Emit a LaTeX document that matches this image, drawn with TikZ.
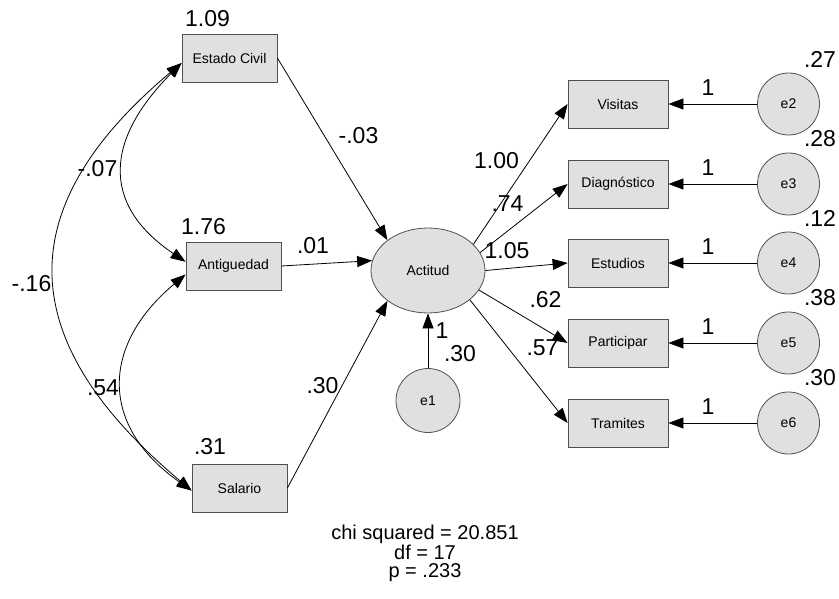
\documentclass[tikz,border=0pt]{standalone}
\usepackage{fontspec}
\setmainfont{Liberation Sans}
\usetikzlibrary{shapes.geometric, arrows.meta}
\definecolor{relleno}{RGB}{224,224,224}
\definecolor{borde}{RGB}{80,80,80}
\begin{document}
\begin{tikzpicture}[x=1pt, y=1pt, line width=0.8pt,
    observada/.style={draw=borde, fill=relleno, minimum width=95pt, minimum height=48pt, inner sep=0pt, font=\fontsize{14}{16}\selectfont},
    latente/.style={draw=borde, fill=relleno, ellipse, minimum width=114pt, minimum height=85pt, inner sep=0pt, font=\fontsize{14}{16}\selectfont},
    residuo/.style={draw=borde, fill=relleno, circle, minimum size=62pt, inner sep=0pt, font=\fontsize{14}{16}\selectfont},
    peso/.style={inner sep=0pt, font=\fontsize{23}{27}\selectfont},
    >={Triangle[length=15pt, width=11pt]}]
    \useasboundingbox (0,0) rectangle (839,-599);

    % Variables exógenas y latente
    \node[observada] (EC) at (229.5,-58) {Estado Civil};
    \node[observada] (AN) at (233.5,-266) {Antiguedad};
    \node[observada] (SA) at (239.5,-488) {Salario};
    \node[latente] (AC) at (428,-270.5) {Actitud};
    \node[residuo, minimum size=64pt] (e1) at (428,-400.5) {e1};

    % Indicadores con sus errores
    \foreach \nombre/\texto/\y/\e/\var/\ang in {VI/Visitas/104/e2/.27/30, DI/Diagnóstico/184/e3/.28/19, ES/Estudios/263/e4/.12/0, PA/Participar/343/e5/.38/-21, TR/Tramites/423/e6/.30/-35} {
        \node[observada, minimum width=100pt] (\nombre) at (618,-\y) {\texto};
        \node[residuo] (\e) at (788.5,-\y) {\e};
        \node[peso] (v\e) at (820,-\y+45) {\var};
        \node[peso] (u\e) at (708,-\y+16) {1};
        \draw[->] (\e) -- (\nombre.east);
        \draw[->] (AC.\ang) -- (\nombre.west);
    }

    % Regresiones
    \draw[->] (EC.east) -- (AC.north west);
    \draw[->] (AN.east) -- (AC.170);
    \draw[->] (SA.east) -- (AC.south west);
    \draw[->] (e1) -- (AC);

    % Covarianzas
    \draw[<->] (EC.186) to[out=225, in=146, looseness=1.35] (AN.175);
    \draw[<->] (EC.186) to[out=220, in=140, looseness=1.37] (SA.183);
    \draw[<->] (AN.190) to[out=220, in=145, looseness=1.32] (SA.183);

    % Estimaciones
    \node[peso] (vEC) at (207.5,-18.5) {1.09};
    \node[peso] (vAN) at (203.5,-226.5) {1.76};
    \node[peso] (vSA) at (210,-446.5) {.31};
    \node[peso] (cEA) at (97.5,-169) {-.07};
    \node[peso] (cES) at (31.5,-284) {-.16};
    \node[peso] (cAS) at (103,-388) {.54};
    \node[peso] (rEC) at (358.5,-136) {-.03};
    \node[peso] (rAN) at (313,-246) {.01};
    \node[peso] (rSA) at (322.5,-386) {.30};
    \node[peso] (ue1) at (442,-331) {1};
    \node[peso] (ve1) at (460,-354) {.30};
    \node[peso] (rVI) at (496.5,-161) {1.00};
    \node[peso] (rDI) at (507.5,-204) {.74};
    \node[peso] (rES) at (507,-251) {1.05};
    \node[peso] (rPA) at (545.5,-300) {.62};
    \node[peso] (rTR) at (542.5,-348) {.57};

    % Ajuste
    \node[align=center, font=\fontsize{20}{18.5}\selectfont] (chi) at (425,-553.5) {chi squared = 20.851\\ df = 17\\ p = .233};
\end{tikzpicture}
\end{document}
